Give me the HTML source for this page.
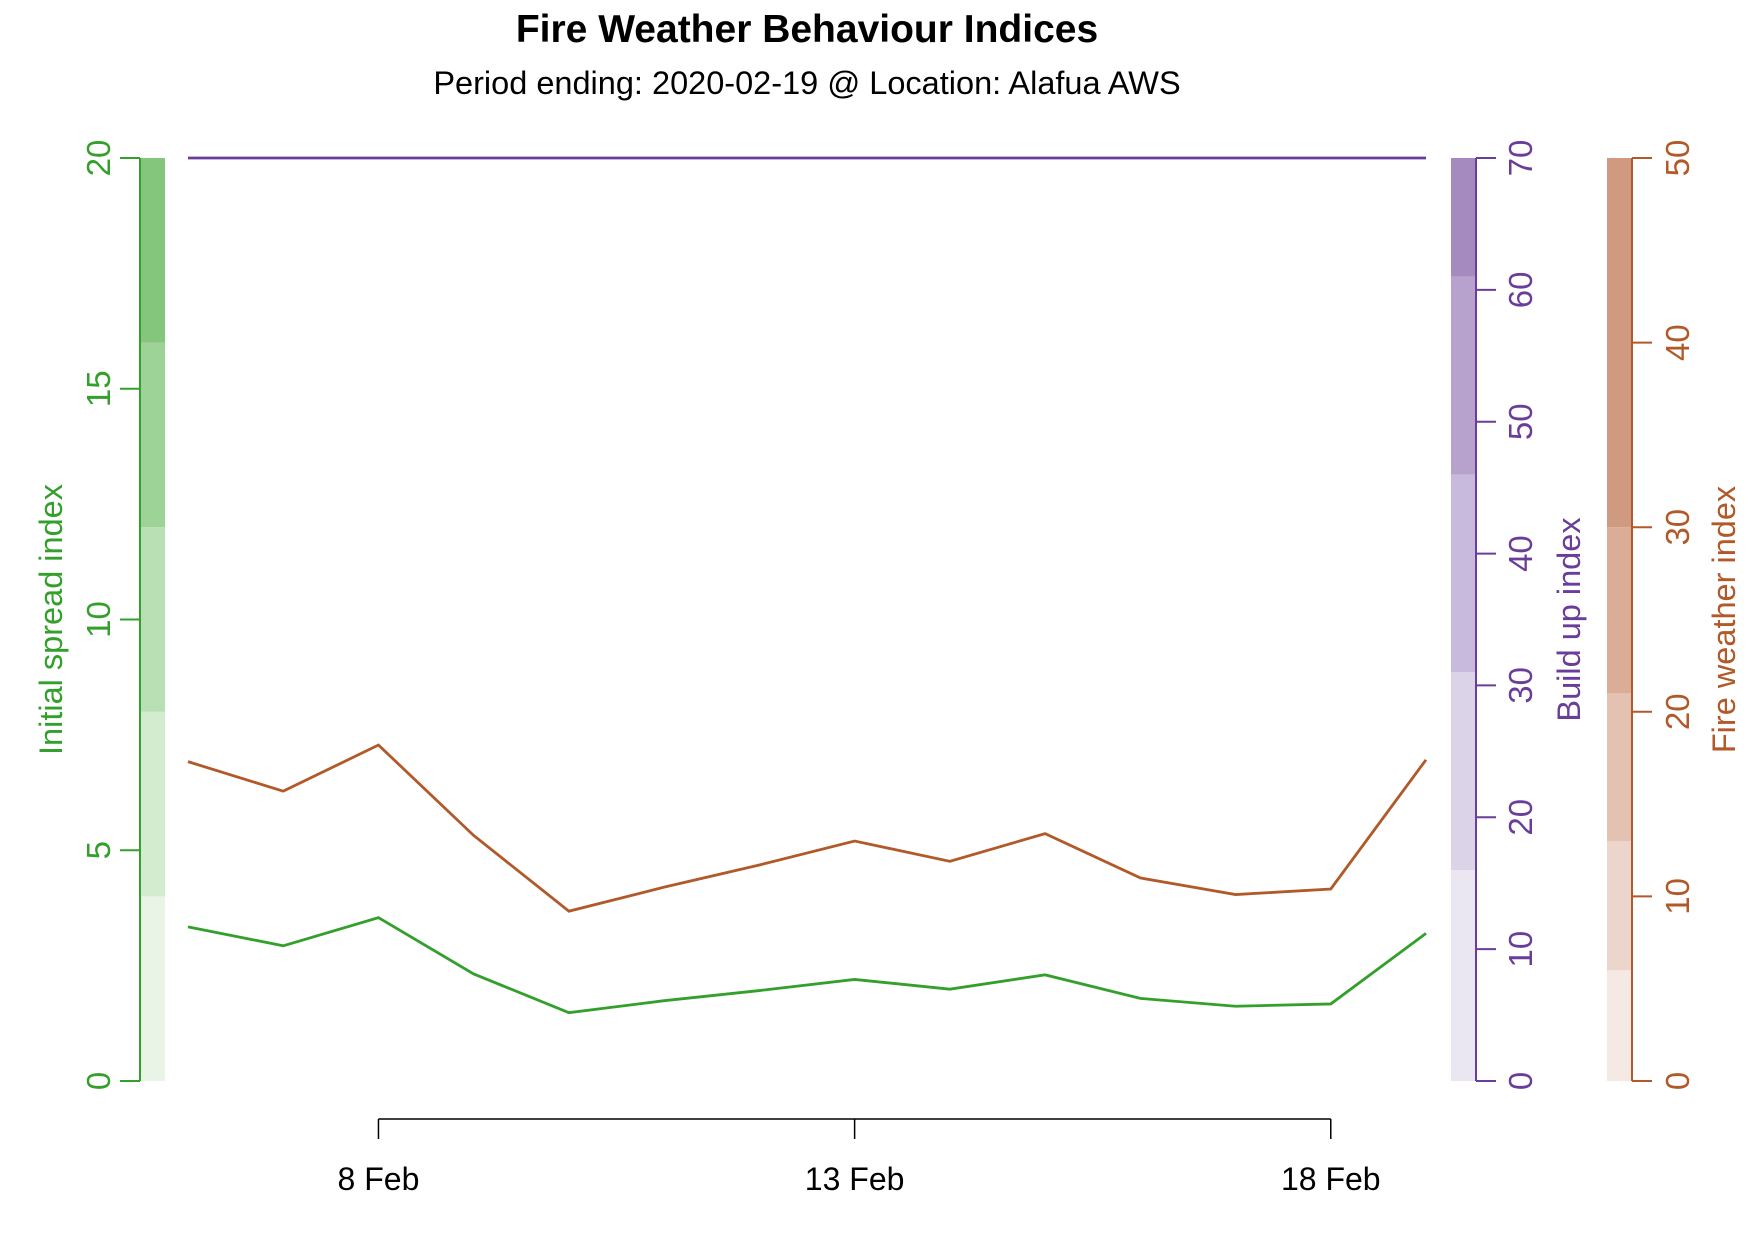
<!DOCTYPE html>
<html><head><meta charset="utf-8"><style>
html,body{margin:0;padding:0;background:#fff}
svg{display:block;font-family:"Liberation Sans",Arial,sans-serif}
</style></head><body>
<svg id="chart" width="1753" height="1240" viewBox="0 0 1753 1240">
<text x="807" y="42" text-anchor="middle" font-size="39" font-weight="bold">Fire Weather Behaviour Indices</text>
<text x="807" y="94" text-anchor="middle" font-size="32.5">Period ending: 2020-02-19 @ Location: Alafua AWS</text>
<g id="layer"></g>
</svg>
<script>
const dates=['6 Feb','7 Feb','8 Feb','9 Feb','10 Feb','11 Feb','12 Feb','13 Feb','14 Feb','15 Feb','16 Feb','17 Feb','18 Feb','19 Feb'];
const isiValues=[3.34,2.93,3.54,2.32,1.48,1.74,1.96,2.2,1.99,2.3,1.79,1.62,1.67,3.2];
const fwiValues=[17.3,15.7,18.2,13.3,9.2,10.5,11.7,13.0,11.9,13.4,11.0,10.1,10.4,17.4];
const buiValues=[70,70,70,70,70,70,70,70,70,70,70,70,70,70];
const dateTickLabels=['8 Feb','13 Feb','18 Feb'];
const isiTicks=[0,5,10,15,20];
const buiTicks=[0,10,20,30,40,50,60,70];
const fwiTicks=[0,10,20,30,40,50];
const isiBands=[0,4,8,12,16,20];
const buiBands=[0,16,31,46,61,70];
const fwiBands=[0,6,13,21,30,50];

const NS='http://www.w3.org/2000/svg';
const L=document.getElementById('layer');
const Y0=1081,Y1=158;
const yS=(v,max)=>Y0-(v/max)*(Y0-Y1);
const xS=i=>188+i*(1426-188)/(dates.length-1);
function mk(t,a){const e=document.createElementNS(NS,t);for(const k in a)e.setAttribute(k,a[k]);L.appendChild(e);return e;}

function axis(cfg){
  const {bands,colors,max,ticks,ax,barX,dir,labelX,col,title,titleX,name}=cfg;
  for(let i=0;i<bands.length-1;i++){
    const r=mk('rect',{x:barX,y:yS(bands[i+1],max),width:25,height:yS(bands[i],max)-yS(bands[i+1],max),fill:colors[i]});
    
    
  }
  const ln=mk('line',{x1:ax,x2:ax,y1:Y0,y2:Y1,stroke:col,'stroke-width':2});
  
  
  ticks.forEach(t=>{
    const y=yS(t,max);
    const tk=mk('line',{x1:ax,x2:ax+dir*20,y1:y,y2:y,stroke:col,'stroke-width':2});
    
    
    const tx=mk('text',{x:0,y:0,transform:`translate(${labelX},${y}) rotate(-90)`,'text-anchor':'middle','font-size':33,fill:col});
    tx.textContent=t;
    
    
  });
  const tt=mk('text',{x:0,y:0,transform:`translate(${titleX},${(Y0+Y1)/2}) rotate(-90)`,'text-anchor':'middle','font-size':32.5,fill:col});
  tt.textContent=title;
  
  
}
axis({bands:isiBands,colors:['#e9f4e7','#d3ebcf','#b9e0b4','#9ed398','#84c67c'],max:20,ticks:isiTicks,ax:140,barX:140,dir:-1,labelX:110,col:'#33a02c',title:'Initial spread index',titleX:62,name:'isi'});
axis({bands:buiBands,colors:['#ebe7f2','#dbd3e8','#c8badc','#b6a2cc','#a48abf'],max:70,ticks:buiTicks,ax:1476,barX:1451,dir:1,labelX:1532,col:'#6a3d9a',title:'Build up index',titleX:1580,name:'bui'});
axis({bands:fwiBands,colors:['#f5e9e3','#ecd6cb','#e3c2b2','#dbac96','#d09a80'],max:50,ticks:fwiTicks,ax:1632,barX:1607,dir:1,labelX:1689,col:'#b15928',title:'Fire weather index',titleX:1735,name:'fwi'});

function series(vals,max,col,name){
  const p=mk('polyline',{points:vals.map((v,i)=>xS(i)+','+yS(v,max)).join(' '),fill:'none',stroke:col,'stroke-width':2.8});
  
  
}
series(buiValues,70,'#6a3d9a','bui-line');
series(fwiValues,50,'#b15928','fwi-line');
series(isiValues,20,'#33a02c','isi-line');

const tIdx=dateTickLabels.map(l=>dates.indexOf(l));
const dl=mk('line',{x1:xS(tIdx[0]),x2:xS(tIdx[tIdx.length-1]),y1:1119,y2:1119,stroke:'#000','stroke-width':1.5});


tIdx.forEach((i,k)=>{
  const tk=mk('line',{x1:xS(i),x2:xS(i),y1:1119,y2:1139,stroke:'#000','stroke-width':1.5});
  
  
  const tx=mk('text',{x:xS(i),y:1190,'text-anchor':'middle','font-size':32});
  tx.textContent=dateTickLabels[k];
  
  
});
</script>
</body></html>
